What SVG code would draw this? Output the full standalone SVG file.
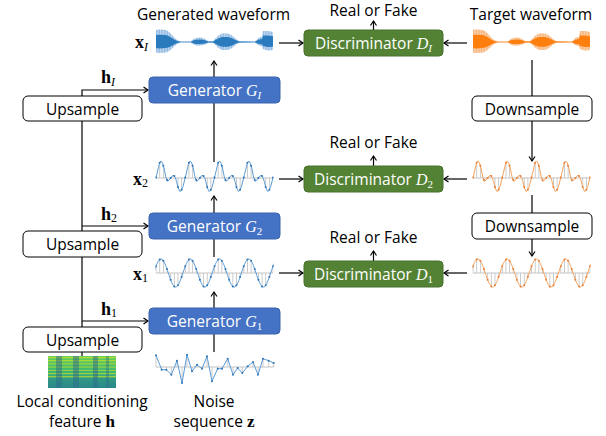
<svg xmlns="http://www.w3.org/2000/svg" xmlns:xlink="http://www.w3.org/1999/xlink" width="606" height="436" viewBox="0 0 606 436">
<style>
.t{font-family:"Open Sans","Noto Sans","DejaVu Sans",sans-serif;font-size:15.5px;fill:#000}
.w{fill:#fff}
.m{font-family:"Liberation Serif","DejaVu Serif",serif}
.c line,.c path{stroke:#000;stroke-width:1.2;fill:none}
.box{fill:#fff;stroke:#000;stroke-width:1}
.gen{fill:#4472c4;stroke:#3b64ad;stroke-width:1}
.dis{fill:#548235;stroke:#47702c;stroke-width:1}
.base{stroke:#c4c4c4;stroke-width:1}
.bl{fill:none;stroke:#5b9bd5;stroke-width:1}
.bd{fill:none;stroke:#2e75b6;stroke-width:2;stroke-linecap:round}
.ol{fill:none;stroke:#f4a35f;stroke-width:1}
.od{fill:none;stroke:#ed7d31;stroke-width:2;stroke-linecap:round}
</style>
<defs>
<marker id="ah" markerWidth="8" markerHeight="8" refX="6" refY="4" orient="auto" markerUnits="userSpaceOnUse"><path d="M1.5,1 L6,4 L1.5,7" fill="none" stroke="#000" stroke-width="1.2"/></marker>
<clipPath id="wc"><rect x="-0.6" y="-25" width="118.2" height="50"/></clipPath>
<pattern id="stems" patternUnits="userSpaceOnUse" x="-0.4" y="-30" width="3.656" height="60"><rect width="0.8" height="60" fill="#bfbfbf"/></pattern>
<pattern id="hatchB" patternUnits="userSpaceOnUse" width="1.6" height="40"><rect width="1" height="40" fill="#8db8e2"/></pattern>
<pattern id="hatchO" patternUnits="userSpaceOnUse" width="1.6" height="40"><rect width="1" height="40" fill="#f6b47a"/></pattern>
<path id="sine" d="M-2.3125,0 c2.385,-7.17 4.666,-14 7.3125,-14 c2.646,0 4.928,6.83 7.3125,14 c2.385,7.17 4.666,14 7.3125,14 c2.646,0 4.928,-6.83 7.3125,-14 c2.385,-7.17 4.666,-14 7.3125,-14 c2.646,0 4.928,6.83 7.3125,14 c2.385,7.17 4.666,14 7.3125,14 c2.646,0 4.928,-6.83 7.3125,-14 c2.385,-7.17 4.666,-14 7.3125,-14 c2.646,0 4.928,6.83 7.3125,14 c2.385,7.17 4.666,14 7.3125,14 c2.646,0 4.928,-6.83 7.3125,-14 c2.385,-7.17 4.666,-14 7.3125,-14 c2.646,0 4.928,6.83 7.3125,14 c2.385,7.17 4.666,14 7.3125,14 c2.646,0 4.928,-6.83 7.3125,-14 c2.385,-7.17 4.666,-14 7.3125,-14 c2.646,0 4.928,6.83 7.3125,14"/>
<path id="sineDots" d="M0,-6.68h0M3.66,-13.43h0M7.31,-12.31h0M10.97,-3.98h0M14.62,6.68h0M18.28,13.43h0M21.94,12.31h0M25.59,3.98h0M29.25,-6.68h0M32.9,-13.43h0M36.56,-12.31h0M40.22,-3.98h0M43.87,6.68h0M47.53,13.43h0M51.18,12.31h0M54.84,3.98h0M58.5,-6.68h0M62.15,-13.43h0M65.81,-12.31h0M69.46,-3.98h0M73.12,6.68h0M76.78,13.43h0M80.43,12.31h0M84.09,3.98h0M87.75,-6.68h0M91.4,-13.43h0M95.06,-12.31h0M98.71,-3.98h0M102.37,6.68h0M106.03,13.43h0M109.68,12.31h0M113.34,3.98h0M117,-6.68h0"/>
<path id="cplx" d="M0,-0.43 L0.75,-3.4 2.75,-11.9 3.5,-15 5,-17 6.5,-15 8,-10 10,0 11.7,3.4 14,0.85 16,-2 17.8,-2.55 19.3,-0.5 20.5,3.4 22.2,10 23.9,13.6 25.4,12.2 27,8.5 30,-3.4 32,-11.9 32.75,-15 34.25,-17 35.75,-15 37.25,-10 39.25,0 40.95,3.4 43.25,0.85 45.25,-2 47.05,-2.55 48.55,-0.5 49.75,3.4 51.45,10 53.15,13.6 54.65,12.2 56.25,8.5 59.25,-3.4 61.25,-11.9 62,-15 63.5,-17 65,-15 66.5,-10 68.5,0 70.2,3.4 72.5,0.85 74.5,-2 76.3,-2.55 77.8,-0.5 79,3.4 80.7,10 82.4,13.6 83.9,12.2 85.5,8.5 88.5,-3.4 90.5,-11.9 91.25,-15 92.75,-17 94.25,-15 95.75,-10 97.75,0 99.45,3.4 101.75,0.85 103.75,-2 105.55,-2.55 107.05,-0.5 108.25,3.4 109.95,10 111.65,13.6 113.15,12.2 114.75,8.5 117,-0.43"/>
<path id="cplxDots" d="M0,-0.43h0M3.66,-15.2h0M7.31,-12.27h0M10.97,1.94h0M14.62,-0.05h0M18.28,-1.89h0M21.94,8.99h0M25.59,11.74h0M29.25,-0.43h0M32.9,-15.2h0M36.56,-12.27h0M40.22,1.94h0M43.87,-0.05h0M47.53,-1.89h0M51.18,8.99h0M54.84,11.74h0M58.5,-0.43h0M62.15,-15.2h0M65.81,-12.27h0M69.46,1.94h0M73.12,-0.05h0M76.78,-1.89h0M80.43,8.99h0M84.09,11.74h0M87.75,-0.43h0M91.4,-15.2h0M95.06,-12.27h0M98.71,1.94h0M102.37,-0.05h0M106.03,-1.89h0M109.68,8.99h0M113.34,11.74h0M117,-0.43h0"/>
<path id="env" d="M0,-12 L3,-12.5 10,-12 13,-10 16,-7 19,-3.5 22,-1.5 25,-0.6 35,-0.6 37,-2.5 40,-4 45,-4.5 49,-3 52,-1 57,-0.8 59,-3 62,-6 66,-8.5 72,-8.5 76,-6.5 80,-3 83,-1 99,-0.6 101,-2.5 103,-4.5 106,-5 107,-11 112,-11 117,-10 L117,8 112,8.5 107,7 106,4 103,3.5 101,2 99,0.6 83,0.8 80,2.5 76,6 72,8 66,8 62,5.5 59,2.5 57,0.7 52,1 49,2.5 45,3.5 40,3.5 37,2 35,0.6 25,0.6 22,1.5 19,3.5 16,6.5 13,9 10,10.5 3,11 0,10.5 Z"/>
<linearGradient id="spg" x1="0" y1="0" x2="0" y2="1"><stop offset="0" stop-color="#6cce5a"/><stop offset="0.45" stop-color="#3bb876"/><stop offset="1" stop-color="#2a8d8a"/></linearGradient>
<pattern id="sps" patternUnits="userSpaceOnUse" x="48" y="357" width="68" height="3.2"><rect width="68" height="1" fill="#d4e21a" opacity="0.75"/></pattern>
</defs>
<rect width="606" height="436" fill="#fff"/>

<!-- waveforms -->
<g id="wave-xI" transform="translate(156,42)">
<use xlink:href="#env" fill="#d3e4f4"/>
<use xlink:href="#env" fill="url(#hatchB)"/>
<use xlink:href="#env" fill="#2a7bbd" transform="scale(1,0.58)"/>
</g>
<g id="wave-target" transform="translate(473,42)">
<use xlink:href="#env" fill="#fbdcc0"/>
<use xlink:href="#env" fill="url(#hatchO)"/>
<use xlink:href="#env" fill="#ff7f0e" transform="scale(1,0.58)"/>
</g>
<g id="wave-x2" transform="translate(156,178)" clip-path="url(#wc)">
<use xlink:href="#cplx" fill="url(#stems)"/>
<line class="base" x1="0" y1="0" x2="117" y2="0"/>
<use xlink:href="#cplx" class="bl"/>
<use xlink:href="#cplxDots" class="bd"/>
</g>
<g id="wave-x1" transform="translate(156,273)" clip-path="url(#wc)">
<use xlink:href="#sine" fill="url(#stems)"/>
<line class="base" x1="0" y1="0" x2="117" y2="0"/>
<use xlink:href="#sine" class="bl"/>
<use xlink:href="#sineDots" class="bd"/>
</g>
<g id="wave-t2" transform="translate(473,178)" clip-path="url(#wc)">
<use xlink:href="#cplx" fill="url(#stems)"/>
<line class="base" x1="0" y1="0" x2="117" y2="0"/>
<use xlink:href="#cplx" class="ol"/>
<use xlink:href="#cplxDots" class="od"/>
</g>
<g id="wave-t1" transform="translate(473,273)" clip-path="url(#wc)">
<use xlink:href="#sine" fill="url(#stems)"/>
<line class="base" x1="0" y1="0" x2="117" y2="0"/>
<use xlink:href="#sine" class="ol"/>
<use xlink:href="#sineDots" class="od"/>
</g>
<g id="noise" transform="translate(156,367)">
<path d="M0,0V-11.7M5.7,0V2.7M10.3,0V2.7M15.3,0V7.7M21,0V-6.3M26,0V16M31,0V-12.3M36,0V4.3M41,0V-2.3M46,0V1.7M51,0V-10.7M56,0V14.3M61.7,0V1.7M66,0V1.7M71.7,0V-8.3M77,0V7.7M81.7,0V1M86.3,0V6M91.7,0V-0.7M97,0V-5M102,0V7.7M107,0V-8.3M112.7,0V-6.3M117.7,0V-4" stroke="#bfbfbf" stroke-width="0.8"/>
<line class="base" x1="0" y1="0" x2="118" y2="0"/>
<polyline class="bl" points="0,-11.7 5.7,2.7 10.3,2.7 15.3,7.7 21,-6.3 26,16 31,-12.3 36,4.3 41,-2.3 46,1.7 51,-10.7 56,14.3 61.7,1.7 66,1.7 71.7,-8.3 77,7.7 81.7,1 86.3,6 91.7,-0.7 97,-5 102,7.7 107,-8.3 112.7,-6.3 117.7,-4"/>
<path class="bd" d="M0,-11.7h0M5.7,2.7h0M10.3,2.7h0M15.3,7.7h0M21,-6.3h0M26,16h0M31,-12.3h0M36,4.3h0M41,-2.3h0M46,1.7h0M51,-10.7h0M56,14.3h0M61.7,1.7h0M66,1.7h0M71.7,-8.3h0M77,7.7h0M81.7,1h0M86.3,6h0M91.7,-0.7h0M97,-5h0M102,7.7h0M107,-8.3h0M112.7,-6.3h0M117.7,-4h0"/>
</g>
<g id="spectrogram">
<rect x="48" y="356" width="68" height="32" fill="url(#spg)"/>
<rect x="48" y="357" width="68" height="21" fill="url(#sps)"/>
<rect x="56" y="356" width="6" height="32" fill="#2c5f8a" opacity="0.45"/>
<rect x="73" y="356" width="6" height="32" fill="#2c5f8a" opacity="0.45"/>
<rect x="93" y="356" width="5" height="32" fill="#2c5f8a" opacity="0.45"/>
<rect x="106" y="356" width="3" height="32" fill="#2c5f8a" opacity="0.35"/>
<rect x="48" y="378" width="68" height="10" fill="#2a7f8e" opacity="0.3"/>
</g>

<!-- connectors -->
<g id="connectors" class="c">
<line x1="279" y1="43" x2="303" y2="43" marker-end="url(#ah)"/>
<line x1="373.5" y1="30" x2="373.5" y2="21" marker-end="url(#ah)"/>
<line x1="467" y1="43" x2="444" y2="43" marker-end="url(#ah)"/>
<line x1="532" y1="60" x2="532" y2="96"/>
<line x1="532" y1="121" x2="532" y2="161" marker-end="url(#ah)"/>
<line x1="532" y1="195" x2="532" y2="213"/>
<line x1="532" y1="239" x2="532" y2="256" marker-end="url(#ah)"/>
<line x1="467" y1="179" x2="444" y2="179" marker-end="url(#ah)"/>
<line x1="467" y1="273" x2="444" y2="273" marker-end="url(#ah)"/>
<line x1="373.5" y1="166" x2="373.5" y2="156" marker-end="url(#ah)"/>
<line x1="373.5" y1="261" x2="373.5" y2="251" marker-end="url(#ah)"/>
<line x1="279" y1="179" x2="303" y2="179" marker-end="url(#ah)"/>
<line x1="279" y1="273" x2="303" y2="273" marker-end="url(#ah)"/>
<line x1="214" y1="77" x2="214" y2="61" marker-end="url(#ah)"/>
<line x1="214" y1="162" x2="214" y2="103"/>
<line x1="214" y1="213" x2="214" y2="196" marker-end="url(#ah)"/>
<line x1="214" y1="257" x2="214" y2="239"/>
<line x1="214" y1="308" x2="214" y2="292" marker-end="url(#ah)"/>
<line x1="214" y1="352" x2="214" y2="334"/>
<line x1="82" y1="352" x2="82" y2="356"/>
<line x1="82" y1="327" x2="82" y2="257"/>
<line x1="82" y1="231" x2="82" y2="121"/>
<path d="M82,96 V90 H148" marker-end="url(#ah)"/>
<line x1="82" y1="226" x2="148" y2="226" marker-end="url(#ah)"/>
<line x1="82" y1="321" x2="148" y2="321" marker-end="url(#ah)"/>
</g>

<!-- nodes -->
<g id="upsample-I"><rect class="box" x="23" y="96" width="119" height="25" rx="5"/><text class="t" x="82.5" y="114.5" text-anchor="middle">Upsample</text></g>
<g id="upsample-2"><rect class="box" x="23" y="231" width="119" height="26" rx="5"/><text class="t" x="82.5" y="250" text-anchor="middle">Upsample</text></g>
<g id="upsample-1"><rect class="box" x="23" y="327" width="119" height="25" rx="5"/><text class="t" x="82.5" y="345.5" text-anchor="middle">Upsample</text></g>
<g id="downsample-1"><rect class="box" x="472" y="96" width="120" height="25" rx="5"/><text class="t" x="532" y="114.5" text-anchor="middle">Downsample</text></g>
<g id="downsample-2"><rect class="box" x="472" y="213" width="120" height="26" rx="5"/><text class="t" x="532" y="232" text-anchor="middle">Downsample</text></g>

<g id="generator-I"><rect class="gen" x="149" y="77" width="131" height="26" rx="4"/><text class="t w" x="214.5" y="96" text-anchor="middle">Generator <tspan class="m" font-style="italic" font-size="16">G</tspan><tspan class="m" font-style="italic" font-size="11" dy="3">I</tspan></text></g>
<g id="generator-2"><rect class="gen" x="149" y="213" width="131" height="26" rx="4"/><text class="t w" x="214.5" y="232" text-anchor="middle">Generator <tspan class="m" font-style="italic" font-size="16">G</tspan><tspan class="m" font-size="11" dy="3">2</tspan></text></g>
<g id="generator-1"><rect class="gen" x="149" y="308" width="131" height="26" rx="4"/><text class="t w" x="214.5" y="327" text-anchor="middle">Generator <tspan class="m" font-style="italic" font-size="16">G</tspan><tspan class="m" font-size="11" dy="3">1</tspan></text></g>

<g id="discriminator-I"><rect class="dis" x="304" y="30" width="139" height="26" rx="4"/><text class="t w" x="373.5" y="49" text-anchor="middle">Discriminator <tspan class="m" font-style="italic" font-size="16">D</tspan><tspan class="m" font-style="italic" font-size="11" dy="3">I</tspan></text></g>
<g id="discriminator-2"><rect class="dis" x="304" y="166" width="139" height="26" rx="4"/><text class="t w" x="373.5" y="185" text-anchor="middle">Discriminator <tspan class="m" font-style="italic" font-size="16">D</tspan><tspan class="m" font-size="11" dy="3">2</tspan></text></g>
<g id="discriminator-1"><rect class="dis" x="304" y="261" width="139" height="26" rx="4"/><text class="t w" x="373.5" y="280" text-anchor="middle">Discriminator <tspan class="m" font-style="italic" font-size="16">D</tspan><tspan class="m" font-size="11" dy="3">1</tspan></text></g>

<!-- labels -->
<g id="labels">
<text class="t" x="213.5" y="20" text-anchor="middle">Generated waveform</text>
<text class="t" x="531" y="20" text-anchor="middle">Target waveform</text>
<text class="t" x="373.5" y="16" text-anchor="middle">Real or Fake</text>
<text class="t" x="373.5" y="148" text-anchor="middle">Real or Fake</text>
<text class="t" x="373.5" y="243" text-anchor="middle">Real or Fake</text>
<text class="m" x="148" y="48" text-anchor="end" font-size="18" font-weight="bold">x<tspan font-weight="normal" font-style="italic" font-size="12" dy="3">I</tspan></text>
<text class="m" x="148" y="185" text-anchor="end" font-size="18" font-weight="bold">x<tspan font-weight="normal" font-size="12" dy="2">2</tspan></text>
<text class="m" x="148" y="280" text-anchor="end" font-size="18" font-weight="bold">x<tspan font-weight="normal" font-size="12" dy="2">1</tspan></text>
<text class="m" x="101" y="83" font-size="18" font-weight="bold">h<tspan font-weight="normal" font-style="italic" font-size="12" dy="3">I</tspan></text>
<text class="m" x="101" y="220" font-size="18" font-weight="bold">h<tspan font-weight="normal" font-size="12" dy="2">2</tspan></text>
<text class="m" x="101" y="315" font-size="18" font-weight="bold">h<tspan font-weight="normal" font-size="12" dy="2">1</tspan></text>
<text class="t" x="82" y="407" text-anchor="middle">Local conditioning</text>
<text class="t" x="82" y="427" text-anchor="middle">feature <tspan class="m" font-weight="bold" font-size="17">h</tspan></text>
<text class="t" x="214" y="407" text-anchor="middle">Noise</text>
<text class="t" x="214" y="427" text-anchor="middle">sequence <tspan class="m" font-weight="bold" font-size="17">z</tspan></text>
</g>
</svg>
